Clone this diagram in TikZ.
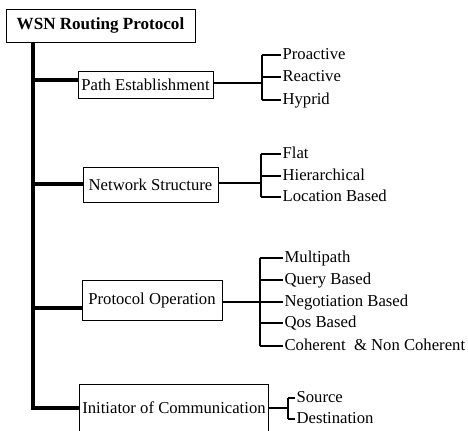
\documentclass[tikz,border=0pt]{standalone}
\usepackage{fontspec}
\setmainfont{Liberation Serif}
\begin{document}
\begin{tikzpicture}[x=0.75pt,y=0.75pt,yscale=-1,xscale=1,
    box/.style={draw,line width=0.75pt,inner sep=2pt,font=\fontsize{12.5}{14}\selectfont},
    leaf/.style={anchor=west,inner sep=1pt,text height=8.5pt,text depth=2.5pt,font=\fontsize{12.5}{14}\selectfont},
    trunk/.style={line width=3pt},
    brace/.style={line width=2.2pt},
    link/.style={line width=1.1pt},
    tick/.style={line width=0.9pt}]
    \useasboundingbox (0,0) rectangle (468,430);

    % Boxes
    \node [box,font=\fontsize{12.8}{14}\selectfont\bfseries,minimum width=141.75pt,minimum height=24.75pt] (root) at (100.5,25.5) {WSN Routing Protocol};
    \node [box,minimum width=101.25pt,minimum height=20.25pt] (path) at (145.5,85) {Path Establishment};
    \node [box,minimum width=101.25pt,minimum height=26.25pt] (net) at (150.5,184.5) {Network Structure};
    \node [box,minimum width=105pt,minimum height=30pt] (proto) at (152,300) {Protocol Operation};
    \node [box,minimum width=138pt,minimum height=36pt] (init) at (174,408) {Initiator of Communication};

    % Text Node
    \node [leaf] (pro) at (281,55) {Proactive};
    \node [leaf] (rea) at (281,77) {Reactive};
    \node [leaf] (hyp) at (281,100) {Hyprid};
    % Text Node
    \node [leaf] (flat) at (281,154) {Flat};
    \node [leaf] (hier) at (281,176) {Hierarchical};
    \node [leaf] (loc) at (281,197) {Location Based};
    % Text Node
    \node [leaf] (multi) at (283,258) {Multipath};
    \node [leaf] (query) at (283,280) {Query Based};
    \node [leaf] (nego) at (283,302) {Negotiation Based};
    \node [leaf] (qos) at (283,323) {Qos Based};
    \node [leaf] (coh) at (283,346) {Coherent\ \ \& Non Coherent};
    % Text Node
    \node [leaf] (src) at (295,398) {Source};
    \node [leaf] (dst) at (295,419) {Destination};

    % Junctions
    \coordinate (jpath) at (33,80);
    \coordinate (jnet) at (33,184);
    \coordinate (jproto) at (33,308);
    \coordinate (jinit) at (33,408);
    \coordinate (bpath) at (262,83);
    \coordinate (bnet) at (261,183);
    \coordinate (bproto) at (260,302);
    \coordinate (binit) at (288,408);

    %Straight Lines
    \draw [trunk] (root.south -| jinit) -- (jinit) -- (jinit -| init.west);
    \foreach \junc/\bx in {jpath/path,jnet/net,jproto/proto}
        \draw [trunk] (\junc) -- (\junc -| \bx.west);
    %Straight Lines
    \foreach \brk/\bx in {bpath/path,bnet/net,bproto/proto,binit/init}
        \draw [link] (\bx.east |- \brk) -- (\brk);
    %Straight Lines
    \draw [brace] (bpath |- pro.west) -- (bpath |- hyp.west);
    \draw [brace] (bnet |- flat.west) -- (bnet |- loc.west);
    \draw [brace] (bproto |- multi.west) -- (bproto |- coh.west);
    \draw [brace] (binit |- src.west) -- (binit |- dst.west);
    \foreach \lbl in {pro,rea,hyp}
        \draw [tick] (bpath |- \lbl.west) -- (\lbl.west);
    \foreach \lbl in {flat,hier,loc}
        \draw [tick] (bnet |- \lbl.west) -- (\lbl.west);
    \foreach \lbl in {multi,query,nego,qos,coh}
        \draw [tick] (bproto |- \lbl.west) -- (\lbl.west);
    \foreach \lbl in {src,dst}
        \draw [tick] (binit |- \lbl.west) -- (\lbl.west);

\end{tikzpicture}
\end{document}
